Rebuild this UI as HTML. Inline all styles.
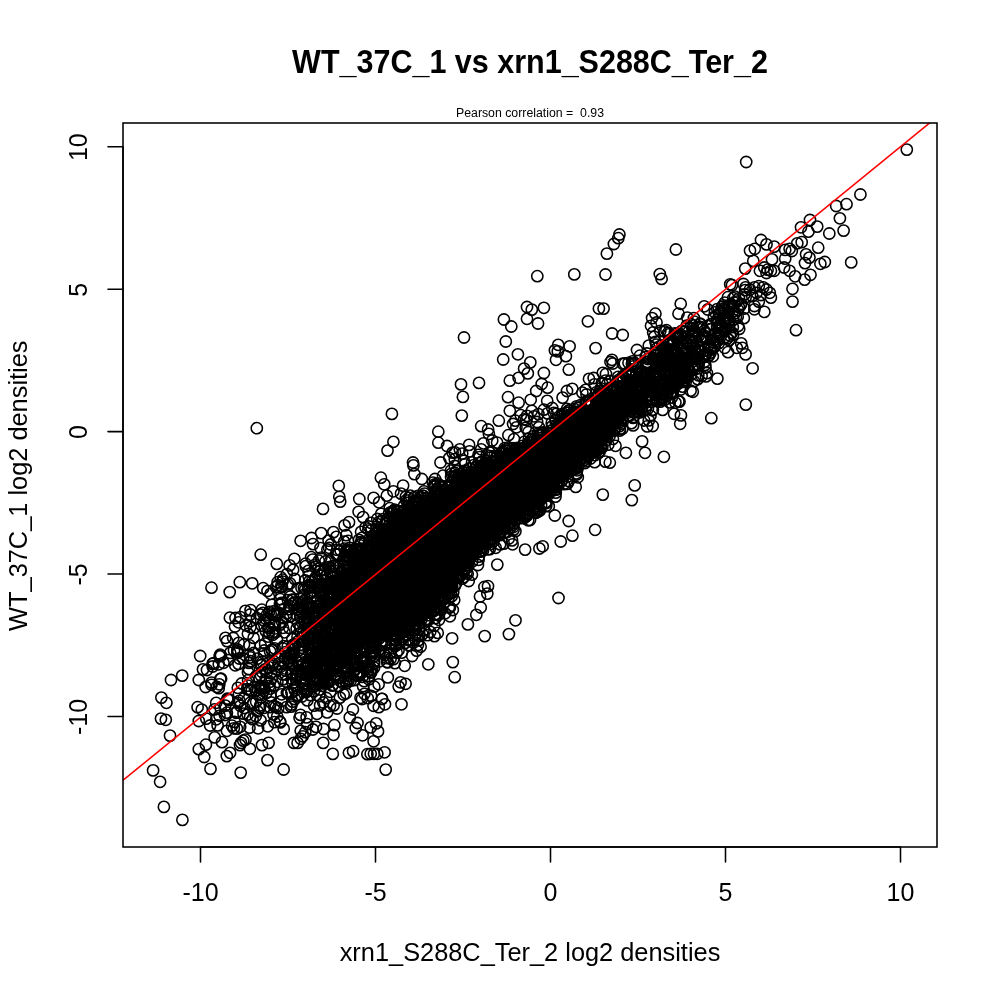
<!DOCTYPE html><html><head><meta charset="utf-8"><title>WT_37C_1 vs xrn1_S288C_Ter_2</title>
<style>html,body{margin:0;padding:0;background:#fff}svg{display:block}text{font-family:"Liberation Sans",Arial,Helvetica,sans-serif;fill:#000}</style></head><body>
<svg width="1000" height="1000" viewBox="0 0 1000 1000">
<rect width="1000" height="1000" fill="#fff"/>
<defs><clipPath id="c"><rect x="123" y="123" width="814" height="724"/></clipPath></defs>
<defs><marker id="m" markerUnits="userSpaceOnUse" markerWidth="16" markerHeight="16" refX="8" refY="8" viewBox="0 0 16 16" overflow="visible"><circle cx="8" cy="8" r="5.62" fill="none" stroke="#000" stroke-width="1.56"/></marker></defs>
<polygon fill="#000" points="334,581 356,561 378,539 400,518 418,505 437,494 475,472 500,458 537,438 550,430 578,411 600,398 612,391 634,375 634,409 612,432 600,444 578,466 550,491 537,504 500,532 475,552 437,604 418,622 400,631 378,641 356,651 334,667"/>
<g clip-path="url(#c)">
<polyline fill="none" stroke="none" marker-start="url(#m)" marker-mid="url(#m)" marker-end="url(#m)" points="205.6,687 205.9,744.7 206.3,718.7 210.1,725.5 211.5,682.7 211.5,684.8 212.5,663.9 212.7,666.5 213.5,663.1 214.5,709.4 216.9,686.9 216.2,702.8 216.3,719.3 217.6,725.4 218.8,664.3 218.7,688.2 219.7,656.3 219.3,684.3 219.5,715.8 220.1,654.7 221,655.6 220.3,679 220.6,708 221.1,678.7 223.5,662.8 224.9,715 225.4,637.8 225.3,705.6 227,641.1 226.9,712.7 226.9,730.8 227.9,660.1 227.3,698.7 228.4,699.1 229.9,617.7 229.1,700 230.2,652.9 232,725.7 233.2,638 234,650.4 233.8,728.3 235,626.5 234.7,721.9 235.5,618 235.2,665.3 236.4,712 236.1,712.8 236.9,728.6 237.4,649.5 237.3,651.2 237.4,652.6 238,652.7 237.8,687.8 237.9,702.9 238.6,622.3 238.7,642.9 238.5,663.9 238.9,693.8 239.3,658.5 239.4,700.9 240.4,617.2 240.3,705.8 240.2,726.8 241.7,683.5 244,644.5 243.1,658.4 243.8,698.5 243.5,713.6 244.3,708 245.4,610.8 246.2,625.5 247.9,633.8 247.7,685.7 247.3,689.1 247.6,714.6 248.9,662.9 248.9,669.2 248,672.3 248.1,680.2 249.5,645.4 249.4,655 249.8,690.1 249.5,727.7 250.6,610.1 250.3,614.5 250.2,621.2 250.4,627.1 250.3,657.4 250.3,661.2 250.4,702.7 250.1,717.3 251.6,690.9 252.8,703.8 252.6,719.2 253.8,628.2 253.6,637.9 253.7,653 254.5,687.1 255.8,690.4 255.8,716 257,618.1 256.1,676.4 256.2,701.9 257.4,658.7 257.6,711.3 258.1,728.3 259.6,678.4 259.4,694.1 259.8,707.9 260.2,614.5 260.7,645.7 260.8,665.4 261,675.7 260.2,685.7 260.7,687.7 260.3,705.4 260.5,720.4 261.8,609.7 261.8,625.6 261.9,664.9 261.2,687.9 261.7,689.5 261.9,694.8 262.9,612.9 262.6,662 262.1,672 262.4,686.5 263.2,588.2 263.9,653.4 263.7,690.9 264.1,620.6 264.2,650.5 264.5,687.7 264.2,707.8 265.9,619 265.9,631.2 265.1,643.6 265.1,669.4 265.7,679.4 267,614.7 266.8,672.6 266.3,693 267.5,591 267.7,726.3 268.8,619 268.2,627.8 269,632.2 268.3,636.6 268.8,667.1 269.2,611.8 269.4,628 270,681.8 269.2,686 269.8,707.1 270.6,593.8 270.7,613.7 270.1,651.4 270.7,673 270,688.6 270.2,695.6 271.8,604.9 271.7,649.7 271.6,678.5 271.1,702.5 272.6,632.4 272.8,634.8 272.2,650.4 272.1,663.5 272.5,665.6 273.2,611.5 273.7,624.8 273.9,685.4 274,706 273.5,714.5 274.4,614.5 274.6,648.4 274.5,661.8 274.4,722.1 275.9,615.9 275.1,624 275.5,632.4 275.8,706.8 276.1,587.2 276.9,615.9 276.9,639.4 276.4,669.3 277.6,582.2 277.8,585.2 277.5,657.7 277.4,681.9 277.2,716.5 278.1,612.5 278.7,663.6 278.2,708.2 279.4,593.7 279.9,604.2 280,624.7 279.9,721.5 280.7,577.2 280.3,599.1 281,604.7 280.1,667 280.3,722.4 281.2,585.9 282,586.9 281.4,602.9 281.6,694.3 281.3,701.1 282.7,579.7 282.5,581.7 282.2,622 282.8,648.4 282.3,674.3 282.9,679.4 283.6,609.1 283.1,618 283,627.8 283.6,646.2 283.2,661.9 283.7,728.9 284.5,632.3 285.6,652.2 285.2,658.1 285.3,670.5 285.6,674.5 286.9,574.1 286.8,613.3 286.1,616.5 286.1,681.6 286.9,693 286.5,707.1 287.8,584.3 287.9,600.1 287.7,646.6 288,658.3 287.8,692.9 288.7,661.5 288.4,692.7 289.6,565.4 289.9,583.4 289.4,605.8 289.2,609.1 289.3,627.9 289.3,654.7 289.5,658.4 289.4,660.7 290.4,596.5 290.4,616.2 291.9,599.7 291.4,653 291.3,656.6 291.1,663 291,664.6 291.3,674 291.4,692.6 291.4,704.6 291,706.6 292.4,639 292.3,645.9 292,673.8 292.1,679.2 292.5,683.1 292.6,701.7 293.1,569.9 293.1,600 293.5,603 293.7,652.8 293.6,654.7 293.9,742.9 294.7,578.9 294.1,644.1 294.1,648.8 294.1,688 294.9,690.4 294.8,699.1 295.3,602.4 295.4,644.8 295.9,676 296,679.4 296.9,615.1 296.7,628.5 297,674.1 297,686.2 296.5,695.6 297.4,588.5 297.2,609.6 297.9,623.3 297.5,636.8 297.1,642 297.3,662.5 297.5,675.5 298.1,609.2 298.4,650.6 298.4,671.6 298.3,695.5 299.6,718.1 300.3,598.6 300.1,606.9 300.2,616.2 300.4,627.2 300.8,632.7 300.1,645 300.5,656 300.6,659 300.2,665.4 300.3,674.3 300.5,714.9 300.7,730.8 300.7,738.8 301.5,587.9 301.6,603.5 301.8,608.3 302,622.2 301.5,647.9 301.5,651.6 301.5,672.2 301.7,678.6 301.9,696.5 302.1,602.4 302.2,612.5 302,612.2 302.9,633.5 302.8,641.5 302.4,641.1 302.5,665 302.9,688.3 303.9,588.1 303.8,600.8 303.5,608.5 303.4,664.1 303.8,672.5 303.3,684 304,594.8 304.6,620.2 304.4,622.5 304.7,635.1 304.7,668.1 305,679.8 304.4,689.5 305.6,563.7 305.8,566.2 305.2,580.3 305.3,589.3 305.4,625.7 305.4,683.1 305.2,684.5 305.9,692.1 305.3,732.2 306.6,617.3 306.5,664.7 307,666.5 306.2,674.4 306.3,675.5 306.6,690.2 306.6,717.4 307.2,602.7 307.2,606.3 307.3,610.1 307.3,612.3 307.5,621.5 307.9,624 307.4,644.6 307.9,661.9 307.2,668.3 307.4,671.4 307.4,691.3 307.3,700.4 307.2,724.2 308.4,570.9 308.6,576.2 308.2,586.3 308.1,588 308.1,603.4 308.2,607.8 308.8,617.4 308.3,623.9 308.3,623.9 308.4,635.8 308.3,638.5 308.8,640.8 308.1,664.4 309.2,581.6 309.5,585.1 309.8,593.7 309.1,627.5 309,638.7 309.1,643.9 309.8,648.5 309.7,672.3 309.4,672.7 310.5,592 310.5,597.6 310.2,608.8 310.7,629.1 311,649.9 310.7,655.5 310.2,670.5 310.5,695.1 311.5,538 311.2,557.1"/>
<polyline fill="none" stroke="none" marker-start="url(#m)" marker-mid="url(#m)" marker-end="url(#m)" points="311.9,581.7 311,609.3 311.3,614.1 311.1,626.8 311.4,627.6 311.6,643 311.5,655.5 311.4,672.7 313,544.1 312.7,559.6 312.2,606.5 312.1,643 313,651.2 312.7,658.6 312.9,663.6 312.4,670.5 312.6,679.4 312.8,681.6 312.8,686.9 312.8,729.5 313.2,590.8 313.3,596.5 313.2,607.7 313.5,612.2 313.7,613 313,625.2 313.7,635.9 313.1,645.1 313.7,645.3 313.3,653 313.9,666 313.4,666.4 313.8,669.6 313.3,671.9 314.6,587.2 314.5,622.9 314.5,638.3 314,656.2 314.4,658.1 314.3,663.7 314.6,670.9 314.5,675.8 314.1,679.4 314,691.1 314.1,705.7 315.3,564.6 315.2,567.1 315.5,577.6 315,580.2 315.2,622 315.6,626.8 315.1,629.8 315.4,645.2 315.6,654.9 315.6,656.6 315.9,656.3 315.6,658.2 315,664.4 315.6,684.2 316,726.9 316.7,585.3 316.1,606.8 316.5,621.4 316.7,641.9 316.7,652 316,652.3 316.4,665.1 316.2,671.4 316.9,677.8 316.4,678.2 316.7,678.7 317,713.8 317.6,593 317.2,600.8 317.4,613.4 317.4,629.7 318,632.9 317.5,653 317.4,654.5 317.2,657 317.5,668.8 318.7,560.7 318.3,568.9 318.2,587.9 318.7,608.8 318.3,608.8 318,623.8 318.2,638.3 318,652.4 319,655 318.1,684.1 319.7,570.9 319.7,605.8 319.9,609.3 319.2,612.2 319.3,621.6 319.1,644.3 319.2,645.8 319.6,652.2 319.3,652.2 319.6,666.4 319.3,696.2 320.5,548.1 321,570.3 320.5,575.9 320.4,590.1 320.8,593 320.6,624.4 321,634.9 320.3,640.2 320.1,652.5 320.2,659.9 320.4,680.5 320.3,689.5 320.1,705.4 321.3,557.7 322,574.6 321.7,584 321.6,584.2 321.4,590.7 321.1,626.6 321,626.1 321.8,650.3 321.6,667.7 321.8,685.8 322.7,594.4 322.2,596.6 322.4,612.1 322.9,614 322.5,614.4 322.3,641 323.2,587.3 324,593.8 323.1,608.2 323.5,620.2 323.8,623.1 323.2,638.7 323.2,659.7 323.2,665.1 323.9,675.8 323.3,676.6 323.9,679.9 323.7,680.8 323,682.6 323.3,702.5 323.5,729 324.5,570 324.3,590.4 324.7,632.4 324.8,654.2 324.8,669 324.9,676.6 324.5,683.6 325.4,561.5 325.3,583.9 325.7,599.8 325.7,643.3 325.7,652.9 325.2,655.1 325.7,661 325.3,664.4 326.4,594.3 326.6,602.2 326.2,609.5 326.4,618.7 326.1,636.1 326.7,636.9 326.3,644.5 326.9,648.7 327,667.8 326.1,674.7 326.3,698 327.4,549.5 327.2,574.2 327.6,584.3 327.6,588.9 327.9,598 327.2,609.6 327.4,619 327.6,621.7 327.2,631.7 327.9,659.4 327.8,669.1 327.5,673.5 327.7,678.5 327.8,680.4 327.3,683 327.1,712.4 328.6,540.6 328.4,567.2 328.8,585.8 328.7,585 328.2,604.6 328.3,605.1 328.1,610.6 328.2,629.7 328.8,634.2 328.1,638.5 328.8,638.3 328.6,681 328.9,682.3 329.1,547.8 329.9,567.5 329.5,583.5 329.8,591.7 329.8,595.1 329,604.2 329.5,612.6 329.1,613.1 329.4,616.8 329.7,617.3 329.4,618.6 329.9,637.6 330,641.1 329.1,643 329.7,646.4 329.9,650.6 329.6,653.7 329.1,658.3 329.7,662.7 329.9,672.3 330.7,544.5 330.1,561.4 331,574.1 330.6,583.4 330.6,584.1 330.3,584.5 330.8,597.6 330.4,599.2 330.3,599.4 330.4,605.8 330.3,617.1 330.4,636 330.6,643.6 330.5,644.1 330.3,648.4 330.1,654.2 330.1,666 330.2,691.8 330,706 331.6,576.8 331.3,593.5 331.7,606.4 331.2,639.4 331.9,643.4 331.5,644.1 331.5,650.5 331.2,653.4 331.7,653.8 331.3,658.6 332.9,565.8 332.3,572.2 332,581.6 332.8,581.5 332.1,582.4 332.5,583.8 332.9,588.5 332.8,594.2 332.3,604.2 332.6,611.9 332,613.2 332.7,614.7 333,618.9 332.3,620.7 332.6,631.4 332.6,653.2 332.9,667.9 332.8,668.5 332.6,669.6 332.8,684.9 332.2,685.7 333.4,532.1 333.6,566.7 334,570.5 333.6,577.6 333.2,581 333.4,586.5 333.7,598.4 333.2,614.2 333.2,616.3 333.2,618.9 334,623.7 333.2,645.4 333.7,653.7 333.6,659 333.3,659 333.6,705.4 334.1,604.7 334.7,620 334.5,628.1 335,631.4 334.7,643.3 334.7,658.1 335,665.5 334.9,666.7 335.9,554.2 335.1,584.4 335.6,600.3 335.1,616.3 335.1,654.3 335.6,669.1 335.2,676.7 336.4,536.8 336.4,567 336.9,581.8 336.5,583.2 336.2,584.8 336.9,591.3 336.5,610.8 337,636.8 336.1,644.4 336.2,658.8 336.8,663 336.9,667.5 336,674.3 337,708.5 337,549.8 337.2,554.6 337.6,587.3 337.5,599 337.8,602 337.4,665.7 337.3,671 338.3,554.5 338.6,589.1 338,596.9 338.5,602.2 338.8,612.7 338.3,625.1 338.6,636.4 338.6,642.7 338.9,645.4 338.9,647.1 338.5,656 338.2,658.7 338.7,660 339,664.8 338.8,678.1 338.9,686 339.4,567 339,582.9 339.1,584.7 339.5,588.5 339.8,589.6 339.5,597.7 339.9,598.3 339.6,601.2 339.4,602.7 339.8,606.4 339.5,612.9 339.6,633.3 339.9,636.6 339.7,637.4 339.6,654.9 339.9,697.6 340.6,550.4 340.3,572.7 340.2,586.5 340.9,587.2 340.9,600 340.3,603.3 340.4,628.3 340.2,634.5 340.8,645.8 340.2,645.5 340.3,649.5 340.2,655.3 340.9,658.4 340.9,677.6 340.2,680.9 341.7,573.1 341,580.3 341.3,591.1 342,601.4 342,607.2 341.7,618.1 341.1,622.4 341.8,623.5 341.6,647.8 342,657.8 341.5,663.3 342.5,561 342.5,583.4 342.6,588.8 342.9,591.1 342.6,597.5 342.7,605.5 342.2,613.6 342.7,623.3 342.5,642.3 342,650.3 342.4,682.6 343.2,569.9 343.9,575.5 343.2,585 343.9,599.6 343.3,620.9 343.2,621.6 344,622.1 343.1,633.9"/>
<polyline fill="none" stroke="none" marker-start="url(#m)" marker-mid="url(#m)" marker-end="url(#m)" points="343.9,647.3 343.5,659.7 343.2,659.4 343.7,694.5 344.2,541.6 344.4,548.6 344.3,556.2 344.3,559.4 344.8,564.3 344.1,578.7 344.5,579.8 344.5,603.4 344.5,610.9 344.9,614.1 345,617.7 344.7,621 344.1,621.5 344.6,638.7 344.1,638.3 344.9,644.5 344.4,647.5 345,576.9 345.4,580.4 345.3,581.1 345.9,610.2 345.8,629.3 345.6,634.9 345.2,639.5 345.7,650.4 345.1,658.5 345.6,669.9 345.5,672.6 345.8,681.4 346.2,535.2 346.7,550.1 346.6,576.2 346.3,582.6 346.3,593.2 346.3,598.3 346.1,601.4 346,604 346.6,603.2 346.3,609 346.3,627 347,633.9 347,638.3 346.9,645.6 346.7,649.3 346.8,654.6 346.4,659.2 346.7,660.3 346.7,666.1 346.5,666.9 346.3,683.4 346,693.3 348,540.9 347.4,556.7 347.5,556.5 347.9,563 347.6,569.2 347.3,574.9 347.1,574.7 347.6,576.5 348,602.7 347.5,610.5 347.4,616.7 347.9,631.4 347.8,645.1 347.5,663.8 347.2,668 349,522.2 348.5,551.3 348,555.3 348.4,572.3 348.6,581.8 348,601.7 348.1,610.4 348.2,617.4 348.1,634.1 348.3,640.9 348.7,675.6 348.3,678.8 348.4,680.9 349.8,547.8 349.5,550.5 349,552.3 349.7,558.1 349.1,565.6 349.6,582.9 349.5,583.8 349.1,597.9 349.5,599.5 349.6,610.1 349.8,617.9 349.1,630.5 349.6,632.5 349.2,635.3 349.5,638.1 349.1,663 349.8,717.4 351,549.9 350.6,584.3 350.4,615.6 350.3,620.3 350.7,626.7 350.3,633.2 350.3,646 350.8,649.9 350.5,652.4 350.7,680.7 351.2,585.5 351.9,586.8 351.4,594.3 351.8,607.2 351.3,617.1 351.5,644.4 351.3,649.4 351.9,660.2 352.9,552.3 352.9,574.6 352.3,574.5 352.8,585.9 352.8,591.1 352.6,623.2 352.2,632.2 352.3,636.2 352.4,638.8 352.2,647 352.6,648.2 352.9,709.5 353.6,561.3 353,561.3 353.5,562.1 353.3,564.8 353.7,565.7 353.8,573.7 353,573.1 353.6,579.1 353.5,587.8 353.1,591.8 353.6,591.8 353.3,593.3 353.5,603 353.9,613.3 353.5,619.9 353.8,623.1 353.4,644 353.2,647.9 354,652.7 353.4,665.1 354.8,567.2 354.2,600.7 354.9,614.8 354.4,648.8 354.8,661.4 354.7,670.1 354.5,670 354.2,680.1 355.3,550.4 355.7,560.7 355.4,562.9 355.8,568.7 355,569.3 355.4,570.3 355.5,570.2 355.6,576.2 355.6,593.1 355.6,599.1 356,602 355.8,612.6 355.2,614 355.3,623.5 355.1,626.8 355.3,627.3 355.7,639.5 355.4,663.5 355.7,728 356,571.2 357,573.3 356.1,577.1 356.6,592.6 356.1,594.5 356.9,607 356.3,610.4 356.6,615.6 356.3,623.6 356.4,624.8 356.5,638.9 356.5,645 356.2,650.3 356.3,663.9 356.4,675.5 357.2,549.5 357.4,560.7 357.3,561.4 357.4,563.1 357.2,576.8 357.6,587.7 357.7,589 357.8,590.4 357.1,593 357.5,598.5 357.9,606 357,605.8 358,608.8 357,619.6 357.7,624.2 357.7,645 357.3,646.5 357.5,646.9 357.3,662.5 357.8,665.8 357.3,675 359,539.8 358.8,565.5 358.8,566.8 358,576.6 358.9,588.5 358.7,590.3 358.8,607.9 358.6,608.4 358.9,621.8 358.8,627.5 358.1,641.3 358.7,642.1 358.8,672.4 358.1,675.6 359.9,545.3 359.4,558 359.4,562.2 359.3,575.5 359.2,576.7 359.3,601.7 359.9,609.2 359.4,620.2 359.6,623.5 359.1,632 359.6,635.4 359.7,643.5 359.5,674.3 360.4,548.6 360.5,555.3 360.7,581 360.3,614.6 360.3,621.7 360,622.4 360.8,624 360.5,653 360.1,652.4 360.8,661.2 360.5,697.8 361.1,531.8 361.9,537.8 361.1,541.8 361.1,543.8 361.1,555.1 361.9,563.1 361.1,577.9 361.7,592.6 361.5,592.6 361.6,599 361.4,626 361,630.9 361.2,636.6 361.4,672.9 362,699 362.1,551 362.9,557.9 362.6,559.9 362.8,582.3 362.8,597.3 362.2,597.3 362.6,615.3 363,618.7 362,623.1 363,637.6 362.8,642.9 362.3,661.5 362.1,666.3 362.4,676.9 363.1,517.1 363.4,557.1 363.5,564.8 363,578.5 363,579.9 363.6,584.3 363.8,593.1 363.5,602.3 363.2,613.5 363.6,619.5 363.9,620.8 363.9,622.3 363.9,635.1 363.6,657.2 363.3,658.2 364,660 363.8,662.4 363.1,686.2 364.8,542.8 364.5,562 364.3,572.2 365,573.4 364.1,576.4 365,582.3 364.2,604.4 364.7,607 364.8,609.1 364.4,614.8 364.7,617.7 364.2,623.5 365,626.1 364.9,646.6 364.7,651.2 364.1,681.1 364.4,693.8 365.6,527.4 365.3,552.2 365.3,554.9 365.8,556.4 365.8,568.3 365,570.5 365.7,577.3 365.2,591.6 365.6,592.8 365,600.7 365.5,600.4 365,608.3 365.1,616.8 365.5,619.7 365.6,626.5 365.3,632.8 365.6,632.1 365.1,649.7 366.9,548.1 366.5,566.7 366.4,567.5 366.9,567.4 366.6,581 366.1,584.7 366.1,587.1 366.6,602.6 366.2,610.2 366.6,619.1 366.7,620.3 366.1,621.1 366.9,631.2 366.5,649.9 366.6,665.5 367.9,548.4 367.5,556.5 367.3,560.5 367.6,566.8 367.1,578 367,583.4 367.8,589.8 367.5,609.3 367.2,611.7 367.7,614.3 367.2,623.1 367.4,623.8 367.1,624.4 367.6,626.3 367.4,626.9 367.3,637.8 367.1,643.8 367.9,666.7 367.7,698.2 368.8,526.5 368.4,529.4 368.6,552.3 369,556.7 368.9,561.9 368.9,569.5 368.4,569.8 368.6,570.6 368.3,571.8 368.3,587.5 368.5,589.8 368.9,595.4 368.5,601.3 368.4,603.8 368.9,605.1 368.6,618.9 368.6,621 368.5,634.6 368.7,666.7 368.1,671 368.9,679.3 369.4,541.6 369.1,547.8 369.8,567.8 369.7,569.8 369.2,576 369.6,577.2 369.3,577.5 369.8,577.9 369.8,597.2 369.4,611.6 369.6,624.7 369.6,624.4"/>
<polyline fill="none" stroke="none" marker-start="url(#m)" marker-mid="url(#m)" marker-end="url(#m)" points="369.7,624.7 369.9,627.7 369.7,630.8 369.2,654.1 369,676 370.8,522.8 370.7,548 370.1,549.3 370.5,563.3 370.7,566.7 370.5,569.3 370.7,584.2 370.3,592.6 370,607.4 370.4,608.7 370.8,617 370.9,620.2 370.2,622 371,639.8 370,652.7 370,653.2 370.3,671.8 371.1,530.4 371.3,550.2 371.4,560.3 371.5,574.6 371.4,583.5 371.3,593.7 371.3,601.9 371.4,617.9 371.5,627 371.5,637.5 371.7,637.9 371.9,648 371.6,652.1 371.3,655.6 371.1,672.7 373,536.4 372.9,539.5 372.7,547 372.3,556.7 372.3,560.6 372.1,574.4 372.7,577.4 372.7,583 372.5,591 372.9,590.2 372.8,593.3 372.2,598 372.8,598.7 372.9,608.2 372.3,623.1 372.8,641.3 372.9,642 372.1,644.8 372,669.9 373.6,540.3 373.7,545 373.8,560.3 374,565.7 373.4,565 373.6,566.9 373.8,570.8 373.5,576.1 373.4,590.7 373.3,628.4 373.7,629.3 373.4,637.3 374,661.7 373.5,705.8 374.7,553.4 374.3,554.3 374.7,567.7 374.1,579.6 374.4,585.1 374.5,591.1 374.9,603.5 374.6,605.7 374.5,630 374.2,644.4 374.3,652.6 374.7,655.9 374,663.9 374.1,667.6 374.3,686.7 375.5,533.7 375.6,538.4 375.1,553.9 375.9,570.9 375.8,597.9 375.5,599.8 376,634.6 375.1,642.7 375.2,651.4 376.8,526.8 376.4,536.3 376.2,538 376.9,540.7 376.9,543.6 376.1,572.2 376.6,583.8 377,591.7 376.1,594.3 376.2,598.2 376.6,602.7 376.4,617.8 377,629.4 376.5,639 376.3,648.1 377.3,519 377,532.2 377.3,542.2 377.8,562.7 377.3,569.1 377.6,583.2 377.4,598 377.6,601.2 377.7,609.7 377,611.9 377.2,627.1 378.7,548.2 378.4,559.7 378.6,559.4 378.5,560.4 378.6,570.2 378.8,630.1 378.5,649.9 378.6,684.3 379,522.1 379.4,528.2 379.3,530.2 379.9,531.4 379.9,540.4 379.2,551.7 379.3,563.9 379.6,566.8 379.2,567.8 379.5,569.2 379.1,571.5 379.7,576.1 379.7,637.8 379.1,638.4 380,651.7 379.5,661.3 380.7,534.3 380.7,574.6 380.1,575.7 380.5,577.2 380.6,582.6 380.9,584.3 381,597.4 380.5,603.5 380.2,619.8 380.2,619.7 380.7,635.1 381.2,513.8 381.5,535.3 381.9,539.2 381,539.9 381.2,548.3 381.1,570.6 381.8,571.8 381.6,580.9 381.6,584.9 381.2,586.6 381.5,593.1 381.3,598.4 381.3,598.5 381.4,611.9 381.3,613.2 381.9,633.8 381.4,641.2 381.1,643.8 381.5,644.3 381.8,698.9 382.8,519.2 382,521.1 382.9,538.1 382.3,543.5 382.3,546.7 382.4,573.3 382.8,593.3 382.4,599.6 382.1,601.5 382.2,601.4 382.3,618.9 382.5,625.5 382.7,641.5 383.1,537.4 383.8,560.9 383.1,571.1 383.6,577.4 383.6,579.5 383.3,580.5 383.6,589.4 383.7,590.1 383.6,597.5 383.8,602.3 383.8,611.5 384,616.6 383.5,620.9 383,624.3 383.6,628 383.2,628 383.6,653 384.3,532 384.5,535.7 384.8,536.7 384.4,539.9 384.9,570 384.4,573.5 385,574.8 384.6,580.7 384.8,580.2 385,585 384.1,593.4 384.9,598 384,598.1 384.9,622.3 384.6,624.3 384.6,634.3 384.7,645.4 384.8,655 385.5,523.3 385.7,530.4 385,540.4 385.9,543 385.8,549.7 385.1,554.4 385.4,564.6 385.4,573.2 385.9,576.8 385.9,585.6 385.3,599 385.4,605.9 385.1,626.8 386,630.9 385.8,631.3 386.7,520.1 387,534.2 386.3,545.6 386.9,547.8 386.1,561.4 386.3,563.8 386.9,581.7 386.2,585.7 387,601.1 386.4,608.7 386.8,608.5 386.6,613.3 386.9,626.8 386.5,627.8 386.8,658.1 387.7,531.6 387.3,532.8 388,538.1 387.9,557.7 387.8,557.8 387.3,562.2 387.8,583.1 387.1,586.8 387.3,597.4 387.4,598.6 387.3,606.6 387.5,611.4 387.8,621.6 387.2,632.4 387.7,634.4 387,662 387.7,662.4 387.8,677.4 388.7,529.9 388,530.8 388.9,532.8 388,540.3 388.3,545.6 388.3,562.7 388.6,563.7 388.2,568.3 388.8,568.5 388.7,581.5 388,592.7 388.9,599.6 388.8,604.1 388.5,609.2 388.1,610.4 388.1,611.4 388.7,611.9 388.4,613.8 388.4,615 388.2,614.3 388.5,632.4 389.8,508.2 389,513.5 389.9,517.3 389.1,525.6 389.3,530.2 389.2,531.4 389.8,532.8 389.2,534.6 389.2,540 389.2,552.7 389.6,558 389.6,562.4 389.8,564.5 389.9,582.1 389.7,589.9 389.1,602.2 389.2,610.4 389.3,616.5 389,616.1 389.7,653.2 390.4,532.2 390.5,540.6 390.2,546.4 391,550.7 390.4,552.2 390.5,557.5 390.5,566.2 390.9,569.1 390.9,580.7 390.6,580.9 390.9,584.3 390.3,587.6 390.2,588.7 390.7,592.3 391,599.1 390.5,609.9 390.7,622.1 390.7,658.6 391,512.1 391.6,528.6 391.7,537.4 391.9,540.7 391.1,544.7 391.2,563.9 391.5,587.9 391.8,605.3 391.2,607.3 391.9,609.6 391.4,609.7 391.7,617.6 391.3,640.2 392.7,512.1 392,528.5 392.5,530.3 392.5,535.2 392.2,552 392.7,555.8 392.1,556.6 393,588.8 392.5,593.1 392.5,603.1 392.1,618.7 392.8,619.6 392,633.5 392,643.9 393,529.6 393.4,531.6 393.8,558.1 393.3,559.7 393.4,577.2 393.4,583.9 393.8,587 393.9,588 393.1,596.4 393.9,606.9 393.1,615 393.1,628.9 393.6,630.8 393.4,659.1 394.5,509.7 394.2,510.8 394.6,522.4 394.3,522.2 394.5,531.7 394,567.6 394.5,575.5 394.4,575 394.4,577.4 394.7,593 394.3,607.8 394.6,617.9 394.2,620.9 394.9,620.1 394.1,622.7 394.9,623.3 394.4,623.9 394.8,626.9 394.9,635.4 394.9,639.4 395,646.1 394.9,663.1 396,523.9 395.4,538.5 395.9,552.8 395.8,552.2 395.7,555.1 395.6,569.6 395.8,572"/>
<polyline fill="none" stroke="none" marker-start="url(#m)" marker-mid="url(#m)" marker-end="url(#m)" points="395.8,596 395.3,609.7 395.5,644 397,510.6 396.3,514.8 396.4,539.5 396.9,539.6 396.5,549.8 396.4,568.7 396.5,581.9 396.5,582.5 396.4,602.7 396.2,609.3 396.9,637.2 396,639.7 396.1,640.8 396.2,644.9 396.6,652.7 397.9,511.6 397.3,536.5 397.1,554.2 397,556 397.3,557.3 397.9,573.6 397.8,576.2 397.2,580.3 397.7,590.3 397.9,595.9 397.9,596.2 397.3,611.9 397.4,616.3 397.6,616.1 397.8,629.3 397.6,630.8 398.2,516.4 398,519.8 398.1,520.6 398.9,522.5 398.7,528 398.3,533.5 398.4,540.8 398.8,545.4 398.6,548 398.4,550.2 398.4,556.7 398.3,567.5 398,592.6 398.7,596.2 398.6,598.8 398.6,611.8 398.2,619.9 398.3,630.1 398.5,650.3 398.7,686.6 399.9,519.4 399.6,529 399.5,530 399.3,531.9 399.7,535.6 399.5,550.7 399.2,551.4 399.9,565.1 399,568.3 399.4,569.1 399.7,576.4 399.9,582.3 399.2,585 399.2,590.7 399.5,625.4 399.7,643.8 400.5,515.5 400.2,517.8 400.7,527.9 400.5,536.2 400.4,550.2 400.5,564.1 401,566 401,579.9 400.3,584.5 400.7,587.7 400.4,589 400,595.5 400.6,595.1 401,606.3 400,616.5 400.3,618.8 400.7,626.1 400.2,631.9 400.6,632.2 400.6,682.3 401,493.6 401.7,538 401.4,546 401.3,554.2 401.6,560.6 401.8,563.1 401,565.8 401.7,566.7 401.3,574.1 401.4,576 401.9,579.9 401.2,586.6 401.4,589.2 401.4,590.8 401.6,591.5 401.7,598.7 401.2,602.2 402,608.1 401.3,612.5 401.2,624.1 401.3,629.3 401.2,632.3 401.8,652.7 402.5,520 402.5,530.8 402.7,537.7 402.6,548.2 402.9,561.2 402.8,571.3 402.4,576.3 403,579.4 402.2,600.5 402.8,601.1 402.1,607.2 402.3,609 402,620.7 402.4,625.9 402.1,639.3 403.6,510.7 403.5,524.4 403.3,558.5 403.2,561.4 403.5,571.5 403.8,586.2 403.5,586.9 403.9,595 403.9,599.2 403.9,602.7 403.8,626.8 403.1,636.5 404,505.8 405,509.8 404.8,517.7 404.9,529.8 404.8,534.3 404.2,551.8 404.3,554 404.5,555.9 404.4,561.3 404.9,565.3 404.7,577.8 404.9,581.3 404.5,591 404.1,592.9 404.9,594.2 404.6,600.3 404.9,609.5 404.9,610.6 404.2,617.6 404.7,665.8 405.8,496.9 405.4,522.6 405.1,529 405.2,529.1 405.6,530.7 405.3,532.6 405.4,564.1 405.1,571.1 405.2,572.6 405.1,576.8 405.9,579.6 405.4,581.8 405.7,591.3 405.4,621.6 405.8,626.8 405.3,629.7 405.8,630.8 405.2,642.9 405.6,683.8 406.2,500.3 406.3,513.9 406.1,535.2 406.9,540.2 406.6,554.6 406.5,558.1 407,561.1 406.3,570.5 406.3,577.2 406.1,593 407,597.7 406.1,600.1 406.1,607.9 406.2,619.1 406.2,625.2 407.8,514.4 407.3,521.8 407.5,524.6 407.6,526 407.8,544 407.5,550.1 407.2,553.7 407.9,556.3 407.1,559.9 407.8,567 407.2,572.7 407.6,581.3 407.2,584.3 407.6,586.4 407,592.2 407.2,599.3 407.6,601.3 407.2,607.4 407.3,611 407.9,623 407.2,627.4 407.3,634.7 408.8,497.8 408.4,502.9 408,507.2 408.6,509.6 408.5,513 408.3,528.8 408.9,534.6 408.7,537.7 408.9,539.9 408.4,562.3 408.1,575 408.7,578.6 408.3,588.7 408.8,600.4 408.9,603.1 408.3,609.3 408.5,620.6 408.8,624.4 408.9,639.3 408.8,645.1 409.3,506.5 410,510 409.1,514.3 409.4,535.9 409.7,539.7 409,545.7 410,546.5 409.5,552.7 409.4,559.4 409.2,564.8 409.9,566.2 409.8,580.6 409.1,586.7 409.3,605.6 409,610.8 409.8,610.1 409.3,614.5 409.2,618.2 409.3,626.6 409.6,640.5 410.3,495.7 410.7,507.6 410.5,509.9 411,518.9 410.5,518.3 410.8,524.6 410.7,531 410.2,540.3 410.4,545.2 410.1,571.4 410.7,572.7 410.5,575.8 410.4,589.7 410.3,594.4 410.2,595.8 410.1,604.4 410.3,614.4 411.8,506.1 411.1,508.6 411.4,516.7 411.4,519.4 411.6,521.2 412,524.2 411.7,528.2 411.4,530.2 411.6,539.7 411.3,568.5 411.5,571.8 411.4,584.9 411.9,612.3 412.5,504.1 412.1,547.7 412.2,549.9 412.9,550.8 412.8,555.3 412.3,557.5 412.1,577.4 412.5,586.6 413,588.5 412.6,588.2 412.8,594.6 412.6,598 412.4,612.8 412.7,614.8 412.4,616.9 412.2,656 413,517.6 413.3,526.5 413.9,527.6 413.6,528.5 413.6,540.1 413.8,543.6 414,565.4 413.3,572.3 413.2,576.5 413,577.6 413.6,585.3 413.9,599.4 413.7,600.9 413.7,616.5 413.5,642.5 414.4,474.1 414,497.2 414.2,502.2 414.2,503.3 414.6,520 414.5,526.3 414.2,527.5 414.8,535.3 414.9,549.7 414.9,550.4 414.8,551.6 414.3,557.9 414,564.9 414.9,565.7 414.3,583 414.1,587.7 414.1,589.5 414.2,591.1 414.6,611.7 414.5,629.8 415.9,513.1 415.2,537.1 416,538.6 415.7,543.8 415.3,550.6 415.7,560 415.3,565.4 415,569.1 415.4,576.7 415.2,581 415.3,581.3 415.8,585 415.9,586.2 415.6,588 415.5,591.3 415.4,592.6 415.7,604.1 415,619.3 415.1,623.1 415.8,624.4 415.6,625.1 415.5,634 415.2,638.8 416,502 416.6,511.4 417,515.4 416.6,517 416.7,527.1 416.9,544.5 416.1,574.9 416.7,577.8 416.3,589.6 416.3,607.3 416.9,611.2 416.5,614.2 416.2,617.5 416,628.2 416.6,650.6 417.9,495.8 417.2,511.4 417.8,522.6 417.2,523.6 417,525.1 417.8,529.1 417.1,551.6 417.3,551.7 417.2,551.9 417.4,553.9 417.4,560.2 417.2,565.3 417.9,580.8 417.8,587.7 418,588.1 417.2,590.3 417.6,598.6 417.1,602.7 417.2,606 417.8,612.5 417.5,618.1 417.8,620.7 417.9,645 418,499.9 418.9,502.4"/>
<polyline fill="none" stroke="none" marker-start="url(#m)" marker-mid="url(#m)" marker-end="url(#m)" points="418.1,510 418.6,511.9 418.1,532.8 418.2,560.5 418.7,563.7 418.5,590.3 418.2,594.4 418.8,612.4 418.4,614.1 418.5,616.1 418.7,624 418.8,629.6 418.7,635.3 418.3,640.4 419.4,523.6 419.8,527.3 420,540.2 419.3,543 419.4,576.1 419.7,577.8 419.9,594.9 419.3,614.1 419.4,614.3 419.1,617 419.1,616.2 419.2,629.3 419,636.1 420.3,496.8 420.3,522.4 420.9,523.2 420.8,525.7 420.5,549.3 421,553.3 420.9,585.4 420.1,590.1 420.7,592.6 421,599.7 420.8,603 420.8,603.3 420.6,605.8 420.2,607.2 420.2,617.7 421.2,497.7 421.8,510.1 421,522.1 421,527.2 421.2,528.5 421,546 421.1,547.7 421.3,555.3 421.2,577.9 421.7,588.6 421,589.5 421.3,614.9 421.3,619.5 423,495.8 422.4,507.3 422.5,516.5 422.5,516.8 422.1,521.7 422.8,530.2 423,535.8 422.6,551.8 422.3,556.6 422.8,559.4 422.1,581.3 422.4,582.9 422.6,590.3 422.8,602.5 422.8,615.1 422.4,634.2 424,491.3 423.4,495.8 423.7,505.9 423.8,515.9 423.3,535.4 423.5,538 423.5,564.9 423.5,567.1 423.3,568.1 423.6,575.7 423.4,593.4 423.8,595.6 423.7,603.5 423.7,607.7 423.2,610.9 424,613.5 423.5,630.2 424.5,493.6 424.5,498.3 424.5,539.5 424.5,573.4 424.9,576 424.6,576.1 424.4,576.6 424.1,577.2 424.8,596.4 424.8,596.1 424.1,599.5 424.2,601.3 425,606.2 425.4,500.9 425.2,502.6 425.1,516.2 425.6,528.3 425.8,538.5 425.9,539.3 425,545.2 425.9,559.8 425.9,567.8 425.8,584.6 425.9,594.5 425.2,598.1 426.6,506.8 426.9,514.3 426.6,518.2 426.5,524.1 426.6,533.5 426.1,533.5 426.4,551.8 426.6,586.6 426.5,588.3 426.5,591 426.3,608.7 426,621 427.2,498 427,504.5 428,518.8 427.6,527.2 427.1,530.7 427.1,532.7 427.1,538.5 428,539.3 427.9,546.7 427.5,547.9 427.7,561.3 427.8,592.5 427.9,601.7 427.7,602.9 427.1,612.4 427.9,618.8 427.6,620.9 427.6,635.2 428.7,516.4 428.2,528.7 428.7,531.1 428.2,535.9 428.9,541.2 429,543.4 428.7,545.2 428.3,553.1 428,556.6 428.5,558.3 428.3,571.8 428.4,571.6 428.8,576.2 428.9,584 428.6,584.9 428.3,612.4 428.2,615.2 429,502 429.6,502.6 429.9,514.1 429.4,546.2 429.4,553.8 429.7,556.9 429.5,558.8 429,567.4 429.8,584.1 429.6,592.7 429.1,603.9 429.5,607.8 429.5,607.1 430.7,506 430.7,508.4 430.6,535.6 431,549 430,552.3 430.1,563.5 430.1,567.2 430.7,572.6 430.3,572.7 430,575 430.3,575.8 430.5,593.9 431,593.5 431,595.1 431,612.1 430,612.5 430.2,631.9 431.4,498.5 431.1,503.6 431.3,504.5 431.1,509.4 431.8,524.8 431.7,531.3 431.8,546.4 431.4,550 431.5,552.2 431.3,554.7 431.5,566.6 432,569.6 431,594.9 431.8,600.4 432.9,482.6 432.9,511 432.4,514.7 432.8,530.6 432.4,538.2 432.2,543.6 432.9,552.7 433,554.2 432.1,556.1 432.2,560.1 432.6,567.2 432.6,577.9 432,604 433.3,497.7 433.3,513.7 433.9,517.9 433.6,526.1 433.6,530.3 433.9,540.9 433.8,559.8 433.7,560.8 433.7,560.1 433.8,578 433.2,584.3 433.9,593 433.1,595.8 433.6,597.7 433.8,599.5 433.5,611.1 434.2,484.7 434.9,486.6 434.3,486.3 434.9,506.2 434.7,511.7 434.5,533.1 435,555.4 434.6,565.3 434.6,585.7 434.6,609.8 434.9,614.6 434.4,625.6 435.4,485.7 436,490.1 435.7,492.3 435.9,509.4 435.1,520.4 435.3,521.6 435,525.8 435.3,533.3 436,538.3 435.7,542.3 435.2,569 435.6,571.8 435.3,577 435.1,600.4 435.3,618.2 436.5,492.2 436.3,496.8 436.4,502.5 436.2,510.6 436.2,513.4 436.5,527.8 436.6,558.6 436.1,570.7 436.3,570.6 436.5,575.7 436.8,599 436.1,602.8 436.8,613.8 437.6,483.3 437.6,488.6 437.1,503.4 437.8,504.5 437.6,521.1 437.5,533.5 437.7,546.4 437.2,553.8 437.2,560.7 437.7,561.7 437.7,566.1 437.4,571 437.3,582.2 437.9,582.4 437.5,586 437.9,591.8 437.5,606.2 437.7,632.9 438.4,492.3 438.2,502.6 438.6,507.2 438.2,513.2 438.9,517.1 438.4,518.2 438.7,525.7 438.8,525.7 438.4,526.4 439,535.2 438.8,540.2 438.7,547.2 439,550.8 438.2,586.7 438.4,597 438.7,599.6 438.5,608 438.2,614.9 439,619.8 439.6,486 439.5,495.4 439.7,495 439.2,511.4 439,512.2 439.4,515.8 440,517.3 440,518.5 439.6,528.6 439.8,535.6 439.6,536.2 439.4,539.6 439.8,541.4 440,556.4 439.8,564.6 439.6,576 439.3,584.6 439.9,585.4 439.3,586.2 439.8,603.4 441,494.3 440.1,502.5 440.7,504.9 440.6,504.8 440.7,512 440.3,528.3 440.1,533.2 440.5,538.6 440.2,553.4 440,561 440.1,568.4 440.1,580.3 440,589.4 440.3,590.8 440.2,595.3 440.3,596.6 440,597.7 440.1,608.9 441.5,486 441.5,498.3 441.2,500.4 441.4,507.6 441.6,515.4 441.6,524.3 441.2,539.8 441.9,540.1 441.9,563.6 441.4,576 441.7,578.3 441.2,582.1 441.3,584.4 441.3,589.8 441.4,599.7 441.4,601.5 441.1,609.8 442.3,487.7 442.8,509.8 442.7,515.2 442.4,515.7 442.2,519.2 442.7,528.8 442.7,534.3 442.6,535.7 442.5,548.4 442.5,555.5 442.7,564 442.9,566 443,566 442.4,583.7 443,475.7 443.2,494.9 443.4,499.4 443.3,501.4 444,503.4 443.3,514 443.5,515.4 443.9,515.6 443.1,521.6 443.7,533.5 443.1,537.1 443.7,539.3 444,544.9 443.1,547.3 443.7,547.9 443.8,557.9 443.9,560 443.1,560.2 443,573.6 443.2,576 443.4,581.8"/>
<polyline fill="none" stroke="none" marker-start="url(#m)" marker-mid="url(#m)" marker-end="url(#m)" points="443.6,596.3 444.9,496.1 444.8,505.9 444.5,531.3 444.7,533.1 444.6,538.9 444.4,539.7 444.2,543.5 444.9,547.5 444.2,549.5 444.3,566.6 444.9,570 444.2,569.5 444.2,584.4 444.1,589.1 444.9,591.2 444.4,602.1 445.2,490.2 445.7,497.2 445.6,517.2 445.6,525.9 445.2,526.7 445.8,538.8 445.8,540.3 445.2,545 445.7,549.2 445.3,550.2 445.4,563.4 445.1,564.6 445.1,570.4 445.6,585.4 445.3,590.4 445.4,598.1 445.1,613.3 446.5,506 446.2,510.3 446.5,522.4 446.5,524.1 446.2,524 446.1,528.2 446.1,531.5 446.4,532.1 446.4,539.8 446.2,546.4 446.6,547.1 446.6,551.6 446.8,558.3 446.7,560.5 446.6,562.4 446.3,564.2 446.5,584 446.9,583.5 447.2,511.8 447.2,516.2 447,536.8 447.5,539.3 447.8,562.1 447.6,585 447.4,594.5 448.2,493.8 448.1,499.4 448.5,500.2 448.3,505.3 448.5,512 448.5,513.2 448.2,523 448.3,526.1 448.6,535.9 448.6,542.4 448.7,547.8 448.6,550.9 448.6,551.8 448.7,558.3 448.1,560 448.8,562.3 448.7,564.3 448.7,573 448.5,575.8 448.3,576.9 448.5,578.6 448,584.1 448.6,588.6 448.9,594.2 448.5,598 448.9,607.4 449.3,485.8 449.1,491.6 449.5,494.9 449.3,504.7 449.2,508.2 449.5,510.7 449.5,511.8 449.8,523.4 449.9,532.2 449.3,539 449.4,547.5 449.2,549.4 449.9,567.9 449.6,572.1 449.6,577.2 450,583.7 449.5,584.8 449.9,607.4 450.9,470.7 450.9,486.6 450.3,502.3 451,508.6 450.8,532.5 450.5,533.1 450.8,540.5 450.5,543.1 450.5,544.9 450.5,550.2 450.8,552 450.4,552.7 450.5,560.6 450.6,567.6 450.9,569.8 450.6,570.1 450.9,570.2 450.7,571.1 450.5,582.4 450.2,583.3 450.3,586.5 450.8,586.9 450.9,593 451.4,473.8 451,476.9 451.2,493.1 451.7,494.6 451.5,495.1 451.1,504 451.8,509.2 451.8,509.7 452,523.8 451.7,544.8 451.1,552.7 451.4,560.2 451.6,566.1 451.3,570.8 451,572.2 451.9,575.2 451.6,578.4 451.9,587.4 451.7,596.2 452.2,482.2 452.8,494.6 452.3,509.7 452.9,534.2 452.4,535.4 452.8,545.8 452.1,572.3 452.9,572.2 452.7,578.4 452.7,580.5 452.1,585.7 452.8,610 453.6,487.9 454,491.3 453.1,493.1 453.6,505.8 453.4,514.3 453.3,520.6 453.7,528.2 453.8,538.1 453,539.2 453.9,541.7 453.6,551.5 453.6,558.8 454,570 453.2,572.3 453.6,575.3 453.2,592.2 455,452.4 454.8,466 454.4,477.4 455,489.1 454.2,491.1 454.2,504.4 454.4,513 454.2,514.7 455,538.7 454.2,553.1 454.9,558.3 454.6,586.2 454.2,599.9 455,473 456,488.5 455.4,488.2 455.8,490.9 455.8,503.2 455.4,507.2 455.8,508.3 455.3,511.1 455.5,513.2 455.5,531.3 455.8,533.7 456,539.1 455.9,549.1 455.6,553.7 455.8,570.1 455.2,575.4 456,583.7 456.5,471.1 456.2,475.7 456.1,484.9 456.6,503.5 456.6,520.6 456.5,521 456.8,522.7 456.6,538.8 456.9,548.3 456.9,552.3 456.4,554.2 456.1,577.3 457.8,477 457,482 457.8,485.1 457.3,489.1 457.6,496.8 457.7,497.1 458,518.3 457.2,522.8 457.9,527.4 457.3,529.2 457.2,530.7 457.5,530.7 457.4,533.2 457.8,538.6 457.4,544.2 458,545.2 457.3,546.4 457.3,549.6 457.9,550.6 457.5,565.1 457.7,567.3 457.6,578 458.8,475.8 459,490.9 458,491.9 458.2,495.1 458.3,510.1 458.1,510.1 458.6,516.7 458.2,518.5 458.5,520.6 458.2,525.5 459,533.7 458,545.1 458.2,548.1 458.2,551 458.6,560.9 458.6,567.1 458,575.3 459,577.4 459.8,449.3 459.6,480.8 459.1,482 459.3,482.4 459.7,501.5 459.3,505.9 459.7,529.9 459.5,530.5 459.7,537.1 459.9,541 459.7,545.8 459.3,554.5 459.5,560.1 459.1,568.7 459.5,576.3 460.6,482.2 460.9,503.6 460.9,530.2 461,548.6 460.4,549.9 460.3,558.3 461.7,473.8 461.4,476.5 461.9,477.7 461.6,483.8 461.9,493.7 461.9,493.5 461.4,497.6 461.3,503.4 461.4,510.7 461.9,515.5 461.2,525.7 461.3,529.8 461.3,529.9 462.2,453.6 462.2,475.9 462.2,537 462.1,537.6 462.7,547.9 462.9,553.6 462.3,554.2 462.4,564.4 462.3,578.6 463.8,460.8 463.7,472.6 463.9,479.6 463.9,487.9 463.8,490 463.4,490.3 463.7,496 463,513.4 463.5,515.6 463.6,517.3 463.6,520.7 463.1,526.6 463.1,527.8 463.3,530.2 463.5,533 463.6,541.5 463.9,542.2 463.9,543.9 464,544.4 463.7,554.5 463.7,560.6 463.2,561.1 463,562.9 463.8,577.1 464.9,464.4 464.9,470.7 464.3,477.4 464.3,481.9 464.7,493.4 464.1,498.5 464,498.2 464.1,506.3 464.5,506.7 464.5,515.3 464,527.8 464.5,530.2 464.4,537.4 464.7,541.1 464.4,544.1 464.2,546.2 465,560.8 464.3,560.6 464.4,563.3 464,570.2 465.8,478.4 466,483.8 465.9,490 465.4,530.8 465.1,532 465.5,533.9 465.7,538 465.5,540.2 465.3,552.4 465.2,555.1 466,557.6 466.2,473.2 466.1,483.6 466.7,490.9 466.2,494.2 466.9,503.6 466.1,506.8 467,512.7 466.9,512.6 466.5,518.4 466.8,526.8 466.4,552.9 466.2,562.3 466.8,565.4 466.5,568.3 466.5,572.4 467.7,475.5 467.4,476.2 467.1,498.9 467.5,503.1 467.1,504.1 467.7,510.9 467.4,520.2 467.3,522.2 468,540.9 467.9,558 467.6,563 467.7,573.7 468,475.6 468.3,475.3 468.1,479.2 468.2,481.9 468.7,493.8 468.1,495.7 468.7,498.8 468.4,501.7 468.3,510.8 468.2,518.6 468.7,521 468.4,533.5 468.3,534.9 468.3,546 468.3,549.2 468.5,552.8 469,560.7 468.5,564.9 468.7,581 469.5,451.3"/>
<polyline fill="none" stroke="none" marker-start="url(#m)" marker-mid="url(#m)" marker-end="url(#m)" points="469.3,468.3 469.5,476.4 469.1,485.4 469.6,486.4 469.6,486.1 469.5,490.7 469.6,498.2 469.7,520.7 470,521.4 469.9,521 469.5,530.1 469.8,543.4 469.5,545.8 469.7,555.1 469.7,556.6 470.7,472.3 470.9,482.9 470.9,488.5 470.6,499.5 471,504 470.2,510.7 470.8,511.7 470.9,511 470.4,517.7 470.5,518.6 470.7,522.1 470.9,524.2 470.2,531.7 470.6,539.8 470.2,549 471.4,477.2 471.4,494.4 471.4,501.1 471.8,512.3 471.5,513.7 471.4,524.2 471.9,527.3 471,537 471,540.5 471.5,546 472,547.7 471.9,574.7 472.1,462.3 472.7,475.4 472.5,483.1 472.7,486.4 472.4,491.1 472.2,499 473,507.9 472.9,514.4 472.6,514.6 472.7,533.8 472.1,535.1 472.7,536.8 472.6,554.7 472.2,561.5 473.8,465.1 473.4,478 473.3,478.4 473.5,478.5 473.3,499.6 473.3,511.5 473.2,513.5 473.9,525.2 473.8,527.2 473,540.3 473.5,543.3 474.7,478.1 474.1,490.8 474.5,501.9 474.1,515.1 474.2,521 474.7,529.1 474.6,534.1 474.8,536.2 475.9,480 475,480.6 475.8,481 475.2,483.1 475.5,485.6 475.6,504 475,506.4 475.2,521.2 475.8,530.1 475.5,534.2 475.3,547.8 476,547.4 475,550.2 475.4,553.6 476.8,466.1 476.1,467.6 476.7,472.5 476.3,484.7 476.7,484.6 476,493.1 476,495.7 476.2,500.1 476.1,508.5 476.8,509 476.4,519.2 477.8,468.8 477.8,484.9 477.7,491.5 477.9,502 477.2,522 477.7,525.1 477.9,545.2 477.9,565 478.5,454.9 479,463.1 479,479.9 478.3,479.3 478.4,499 478.7,506.1 478.3,510 478.1,520.5 478.6,523.8 478.6,534.6 478.1,541.2 479,542.9 478.7,545.1 478.8,556.6 478.6,559.8 479.6,457.1 479.7,473.9 479.6,473.1 479.4,511 479.6,518.8 479.6,521.8 479.2,529.6 479.6,551.6 481,462.2 480.2,468.1 480.7,468.8 481,476.2 480.7,488.9 480.9,499.3 480.1,504.4 480.7,505.5 480.4,506.8 480.2,511.8 480.9,521.8 481,527.2 480.6,530.3 480.1,533.8 480.6,534.8 481.8,461.7 481.8,467.7 481.2,477.7 481.3,519.5 481,526 481.6,531.9 481.2,551.4 483,468 482.2,470.1 482.5,471.5 482.2,491.7 482.5,499.5 482.8,502.2 482.1,519.8 482.3,521.8 482.9,525.6 482,526.5 482.3,529.5 482.6,547.9 483,550.4 483.5,443.4 483.7,466.5 483.5,505.1 483.6,522.7 483.2,531.4 483.6,541.6 483.9,544 484.4,481.9 484.4,494.5 484.1,495.2 484.5,515.2 484.7,516.7 484.8,523.6 484.6,525.6 484.7,531.9 484.5,533.3 485.6,467.5 485.7,475 485.1,477 485.7,481.2 485.3,483.4 485.7,503.2 485.3,519.3 485.9,525 485.2,526.4 485.2,531.6 485.5,537.3 485.7,539.6 486.8,455.3 486.1,460.8 486.5,463.3 486.3,485.6 486.3,487.4 486.7,509.8 486.4,514 486.6,514.9 486.6,517.3 486.3,527 486.7,542.7 487.3,466.8 487.9,472.7 487.9,480.4 487.2,484.5 487.6,492.9 487.8,514.8 487.4,518.1 487.2,525.3 487.4,540.3 488.1,429.5 489,466.3 488.6,468.9 488.3,474.9 488.9,482.7 488.1,482.1 488.6,496.2 488.7,501.2 488.8,510.5 488.1,511.2 488.9,514.4 488,549.3 489.6,452.6 489.7,468.6 489.2,470.3 490,473.9 489.8,474.1 489.1,501.3 489.8,515.1 489.9,523.6 489,542.2 489.8,549.1 490.1,456.1 490.5,457.6 490.3,464.9 490.9,465 490.3,479.9 490.2,484.3 490.4,493.6 490.5,497.7 490.5,499.4 490.5,504.4 490.4,504.8 490.3,504.1 491,512.9 490.5,518.9 490.4,526.3 490.7,531.5 490.7,532.8 490.7,534.7 492,452.1 491.9,461.4 491.2,468.9 491.8,469.9 491,471.1 491.1,487.9 491.6,497.5 491.2,497.8 491.6,498.5 491.3,504.1 491.5,513.7 491.4,524.4 491.2,538.7 491.1,543.9 492.5,465 492.3,468.6 492.7,470.3 492.7,470.7 492,487.5 492.6,489.6 492.7,491.8 492.1,503.3 492.3,504.9 492.9,504.9 492.9,505.7 492.6,524.3 492,524.4 492.5,532 492,533 492.8,534.4 492.5,539.3 493.9,480.1 493.3,481.8 493.9,489.4 493.3,497.1 493.8,498.2 493.6,509.9 493.1,512.8 493,514.3 493.2,516.1 493.3,516.6 493.9,523.1 493.1,526.8 494,527.2 493.6,541 494.5,455.9 494.7,478 494.1,486.5 494.1,487.8 494.7,501.9 494,505.7 495,506.2 494,510.3 494.7,510.8 494.5,516.9 494.1,522.5 494.9,527.1 494.6,530.3 495.7,458.6 495.8,462.1 495.3,473.4 495.8,478.2 495.6,484.2 496,486 495,494.8 495.5,496.9 496,498.9 495.3,509.2 495.7,516.7 495.5,519.9 495.1,535.4 495.7,547.8 496.4,457.4 497,473.4 496.3,473.6 496.8,523.1 496.8,526.4 497.1,442.6 497.2,483 497.9,497.3 497,499.8 497.9,511.1 497.4,512.4 497.6,525.2 497.3,564.6 498.8,469.3 498.8,480.5 498.1,485.8 498.6,504 498.7,510.1 498.1,516.9 498.2,530 498.9,534.4 499.8,457.2 499,462.7 499.3,500.9 499,505.4 499.7,510.7 499.5,513.4 500.7,456.4 500.7,460.7 500.2,464.3 500.1,483.1 500.3,496.3 500.2,531.6 500,535.1 500.1,544.4 501.4,452.7 501.4,453.9 501.9,453.8 501.4,458.9 501,466.1 502,469.9 501.5,469.6 501,480.4 501.6,482.5 501.4,488.6 501.3,517.4 501.1,522.8 501.1,531.7 502.6,452.8 502.3,457.7 502.2,462.7 503,469.7 502.7,484.2 502.4,485 502.1,489.2 502.8,490 502.2,513 502.4,515.2 502.1,515.9 502.5,528.5 503.5,451.8 503.7,478.5 503.7,480.2 503.1,480.6 503.6,482.6 503.6,491.2 503.3,492.2 503.3,514.6 503.8,543.7 504.8,448.1 504.7,457.4 504.7,470.4 505,471.5 504.5,472.1"/>
<polyline fill="none" stroke="none" marker-start="url(#m)" marker-mid="url(#m)" marker-end="url(#m)" points="504.5,475.6 504.1,478.8 504.1,497.7 504.8,511.4 504.3,520.6 504.3,521.9 505.6,458.2 505.1,469.1 505.7,475.5 505.4,479.5 505.5,493.5 505.7,503.9 505.4,504.6 506,505.4 505.5,522.7 505.2,526.9 505.1,532.3 506.7,449.7 506.6,450.9 506,456 506.6,459.4 506.9,465 506.3,471 506.6,475.1 506.7,479 506.6,490.9 506.2,501.4 506.7,504.8 506.8,505.2 507.5,456.2 507.8,481.1 507.8,488.3 507.9,496.1 507.4,512 507,516.6 507.9,519.4 507.3,531.9 508.4,435.2 508.6,447.5 508.9,457.8 508.1,465.3 508.4,466.4 508.7,468.6 508.7,487.7 508.9,488.3 508.9,494.7 508.7,504.2 508.2,505.2 508.2,506.3 508.7,523.9 508.8,538.5 509.3,461.1 509.3,471.9 509.9,477.5 509.8,491.2 509.1,497.7 509.8,504.6 509.6,528.7 510.6,456.6 510,456 510.4,460.6 510.3,467.4 510.4,467.4 510.6,471.6 510.6,479 510.5,502.1 510.5,508.8 510.3,509.1 510.1,510.2 510.5,516.2 510.4,516.8 510.4,518.8 510.5,523.8 511.8,459.4 511.7,467.3 511,472.4 511.2,483.9 511.8,490.8 511.3,494.8 511.5,501.2 511.9,519 512,540.4 512,453.5 512.6,476.8 512.8,485.8 512.6,501.6 512.4,509.9 512.4,511.5 512.9,524.8 512.6,544.3 513.3,448.2 513.6,451.2 513.8,454.5 513.8,459.4 513.8,463 513.8,472.7 513.9,472.8 513.8,486.8 513.6,497 513.1,507.1 513.9,523.1 513.2,527 513.6,529.7 514,439.2 514.7,464.3 514.2,473.4 514.3,481.4 514.2,488.1 515.4,449.6 515.4,461.9 515.9,472.8 515.9,481.1 515.2,487.4 515.1,489.8 515.8,490.8 515.6,512 515.4,520.4 515.4,531.2 516.2,451.8 516.4,466.4 517,487.7 516.2,508 517.4,448 517.6,463.2 517.4,464.9 517.7,477.6 517.3,484.6 517.9,486.4 517.5,508.3 517.4,514.2 518.1,449.5 518.8,450.9 519,453.3 518.6,453.7 518,453.9 518.3,458.4 518.7,459.2 518.2,460.2 518.7,487.9 518.7,494.2 518.7,501 518.1,507.9 518.9,507.6 518.6,509.5 518.1,510.3 519.2,462.6 519.9,474.6 519.6,475.9 519.9,483.1 519.2,489.3 519.5,518.2 520.8,449.4 520.7,449.2 520.4,449.2 520.1,459 520.8,476.2 520.2,485.6 520.6,496.6 520.7,499.5 520.2,503.3 520.3,505.4 520.2,513.3 521.8,448.7 521.3,470.3 521.1,474 521.2,482.2 522.8,445.8 522.4,449.9 522.1,457.1 522.2,465.5 522.3,470 522.9,475 522.6,480.2 522.6,482.1 522.3,485 522.9,492.5 522.4,495.4 522.3,496.3 522.6,515.4 524,450.8 523.3,452.3 523.6,455.3 523.4,460.8 523.7,468.8 523.5,475.6 523.5,483.9 523.5,494.9 523.4,505.8 524,512.8 523.9,518.3 524.1,419.3 524.5,441.7 524.2,448.5 524.2,476 524.8,487.1 524.7,491.4 524.3,496 524.5,515.2 525.7,427.8 525.7,454.1 525.7,454.1 525.8,462 525.8,467.1 525.6,467.7 525.7,479.1 525.8,482 525.4,484.8 525.3,485.4 526,485.9 525.6,491.1 525.7,494.2 525.7,508.3 525.3,516.5 526.3,419.9 526.7,449.5 526.8,459.4 526.6,467.2 526.6,484.8 526.5,492 526.5,498.2 526.8,503.5 526.9,515.7 526,516.2 527,415.9 527.2,444.9 527.4,449.3 527.2,452.5 527.6,460 527.7,485.8 527.1,496.2 527.9,508.6 527.5,509.2 527.3,510 528.5,432 528.9,438.6 528.5,442.7 528.9,445.5 528.4,495.8 528.1,513.2 528.2,520.3 529.2,451.9 529.2,458.6 529.8,461 529.6,464.1 529.4,465.7 529.6,470 529.3,472.2 529.6,472.5 529.4,473.5 529.4,476 529.8,491 529.6,495.7 530.9,447 531,448.7 530.4,461.5 530.3,472.6 530.4,484.8 530.9,499 530,520 531.5,439.7 532,443.2 531.2,458.3 531.3,464.5 532,475.1 531.3,485.5 531.1,502.8 532.7,438.8 532.5,469.6 532.3,474.8 532.3,476 532.4,476.3 532.8,485.6 532.9,501.8 533.6,436.2 533.7,452 533.1,457.7 533.3,469 533.5,470 533.3,475.5 533.9,480.8 533.4,480.2 534,486.7 534,497.1 533.8,498.1 533.9,508.4 534.5,439.4 534.6,450.1 534.8,465.6 534.3,475.6 534.1,484.7 534.9,492.7 534.3,503.9 534.2,504.4 534.4,506.4 535.3,444.1 535.6,455.2 535.3,456.6 535.3,461.5 535.9,473.5 535.3,474.4 535.1,502.1 535.2,510.1 535.8,512.8 536.9,441.1 537,443.3 536.6,444.4 536.8,449.3 536.7,451 536.8,453.6 536.8,473 536.2,482.5 536.2,482.1 537,488.5 536.1,488.8 536.9,508.1 537.1,422 537.8,433.8 537.5,440.2 537.3,442.5 537.2,470.7 537.4,506.1 537.8,510.1 537.5,512 538.9,427.3 538.9,450 538.7,453.9 538.4,464.3 538.8,480.2 538,481 538.7,480 538.5,492.8 539,510.7 539.7,445.8 539.1,447 539.8,448.3 539.5,452.5 539.5,461.3 539.4,474 539.9,476.2 539.5,498.3 539.8,498.8 539.6,499.1 540.1,434.4 540.9,435.1 540.4,435.5 540.4,449.7 540.6,455.3 540.7,457.5 540.4,462.4 540.6,463.7 540.2,472 540.2,474.2 540.9,491 540.8,499.6 540.2,510.1 541.7,433.7 541.7,437.7 541.6,441.3 541,442.6 541.3,458.1 541.2,464.5 541.7,470.7 541.7,472.7 541.6,480.5 541.6,482.5 541.6,485.5 541.1,505.1 542.7,432.7 542,441.4 542.5,458.2 542.6,470.5 542.4,471.9 542.6,491 543.6,432.5 543.2,441.4 543.4,446.2 543.3,453.3 543.6,486.6 543.5,486.5 543.9,488.4 543.2,494.7 543.9,496.6 544.3,438.9 544.5,444 544,449 544.6,453.2 544.7,456.9 544.2,460.6 544.6,461.5 544.2,479.8 544.9,494.2 545.3,438.9 545.2,455 545.7,460.3 545.8,461.9 545.9,463.9 545.3,477.6 545.9,478.8 545.5,485.3 546,494.4"/>
<polyline fill="none" stroke="none" marker-start="url(#m)" marker-mid="url(#m)" marker-end="url(#m)" points="545.8,502.1 546.7,435.5 546.2,456.7 546.2,472.9 547,476.7 546.6,484.7 546.2,502.5 546.4,503 546.2,505.8 547.5,413.4 547.5,436 547.1,452.2 547.5,454.2 547.4,457 547.3,467.4 547.1,473.7 547.7,478 547.6,484.4 547.1,486.8 547.5,488.7 547.2,491 547.4,495.7 548.1,438.1 548.7,445.3 548.2,446.2 548.6,458.1 548.6,462.6 548.1,463 548.8,466.1 548.9,469.7 548.6,484.9 548.3,492.4 548.8,506.3 549.3,467.2 549.8,474 549.1,474.2 549.2,478 551,431 550.5,433.3 550.1,454.9 550.6,457.8 550.2,461.7 550.5,467.7 551.7,422.9 551.8,430.4 551.5,435.5 551.3,438.6 551.8,453.1 551.4,459.2 552,470.5 551.7,475.9 551.2,491.3 552.2,408 552.1,426.3 552.5,437.1 552.7,443.4 552.6,443.6 552.6,444.2 552.9,447.4 552.1,452.1 552.7,480.5 552.6,483.6 552.8,487.6 552.8,489.4 553.3,450.5 553.4,451.2 553.5,456 553.6,461 553.8,467.1 553.5,470.7 553.1,474.6 553.8,484.7 554.8,435.5 554.5,442.6 554.9,443.8 554.7,460.6 554.5,474.5 554.1,474.3 554.4,477.1 554.2,481.9 555.6,420.1 555.6,421.3 555.5,433.8 555.7,435 555.3,436.6 555.3,442 555.1,442.6 555.8,452.5 556,456 555.3,470.2 555.5,475 555.8,478.8 555.9,489.6 555.2,489.8 555.8,492.7 555.5,496.6 556.3,413.8 556.7,424.9 556.2,432.9 556,434.6 556.5,440.1 556.2,443.7 556.5,464.3 556.5,486.7 557.3,427.1 557.3,439.4 557.9,445.8 557.2,463.9 557.3,465.6 557.4,469.7 557.3,484.8 557,486.7 558.2,425.6 558.6,428.3 558.3,433.4 558.5,433.7 559,441.8 558.5,442.2 558.7,452.1 558.7,462.6 558.3,466.8 558.4,471.1 558.4,476 558.8,483.7 559.5,423.7 559.6,425.6 559.9,427.8 559.2,428.1 559.4,438.9 559.1,440.6 559,440.3 559,441.8 559.2,442.6 559.7,449.5 559.4,469.6 559.9,474.9 560.9,416.8 560.3,422.5 560.9,423.2 560.3,424.4 560.1,458.6 561.5,425.3 561.3,425.9 561.9,432.6 561.7,445.8 562,446 561,461.1 561.5,472 561.8,480.6 561.7,480.4 562.8,415.4 562.4,428.1 562.8,433.7 562.4,451.1 562.1,458.7 563,459.5 562.5,462.3 562.6,464.6 562.1,464.7 562,470 563.1,413.6 563.5,418.5 563.8,438.6 564,442.6 563.6,443.9 563.5,449.4 563.2,454.4 563.8,458.6 563.7,461.1 563.5,464.2 563.1,466.3 563.5,473.3 563.1,476.1 563.9,484.2 564.5,422.8 564.8,426.2 564.7,438.1 564.7,444.6 564.8,455.4 564.2,462.8 565,466.3 564.9,467.1 564.2,469.8 564.2,471 564.1,471.9 565.6,418.3 565.7,429.6 565.8,443.8 565.1,454.2 565.2,454.4 565.9,455.3 565.5,463.9 565.6,472.5 566.9,412.9 566.3,419.6 566.9,422.8 566.5,425.8 566.4,473.9 567.1,408.9 567.4,443.5 567.8,446.3 567.7,451.2 567.8,458.7 567.4,464.5 567.7,470 567.9,476.4 567.3,483.9 568.6,410.6 568.3,412.7 569,415.8 568.9,417.3 568.2,444.5 568.2,455.4 568.7,466.9 568.6,467.1 568.9,481.1 569.9,410.1 569,416.8 569.5,421.8 569.1,424.2 569,432.9 569.1,437 569.7,450.7 570.3,414.8 570.6,415.8 570.6,429.6 570.2,444.3 570.5,461.1 570.5,468.6 571.1,419.7 571.4,424.1 571.6,425.4 571.4,433.3 571.6,436.3 571.7,451 571.2,458.8 572.3,388.8 572.3,415.4 572.1,420 572.3,420.1 572.2,431.6 572.1,449.6 572.5,451.1 572.6,455.3 573.8,423.2 573.8,423.8 573.1,425.3 573.5,426.6 573.7,429.6 573.5,446.9 573.6,466.3 574.4,409 574.5,415.9 574.9,428.1 574.1,447.8 574.9,453.7 574.8,461.5 574.7,467.6 575.9,413.1 575.9,420.4 575.7,425.6 575.6,426.9 575.2,434.9 575.5,437.8 575.3,443.5 575.2,450.3 575.1,454 575.7,458 575.8,466.5 575.9,468.6 575.8,468.3 576.6,406.3 576.6,411.9 576.4,412.4 576.3,414.6 577,423.7 576.1,424.2 576.9,429.3 576.3,444.7 576.8,455.3 576.7,462.3 576.4,464.2 576.2,473.3 576.7,474.5 577.2,417.2 577.5,417.8 577.6,440.2 577.3,441.8 577.7,451.2 577.5,452.9 577.1,470.3 577.8,477.3 578,408.2 578.5,417.2 578.7,426.4 578.2,430.6 578.9,460.2 578.2,466.7 579.7,418.8 579.8,440 579.2,439.2 579.3,444 579.1,446.7 579.7,453.7 579.7,454 580,459.8 580.5,405.1 580.9,410.9 581,423.7 580.4,425 580.3,429.3 581,436.8 580.1,455.7 582,410.1 582,419.8 581.3,425 581.1,425.6 581.2,458.4 582.4,392.7 583,410.8 582.4,413.1 582.1,436.4 582.3,440.9 582.7,448.6 582.6,458.8 583.9,409.9 583.7,411.2 583.9,428.3 583.6,430.3 583.3,443.3 583.6,448.6 583.4,452.7 583.9,454.1 584,460.2 584.5,413 584.8,424.6 584.4,430.7 584.2,450 584.5,456.9 585.7,402.1 586,425.7 585.6,425.4 585.3,425.9 585.2,442.6 585.5,443.4 585.3,450.2 585.8,461.3 585.1,463 586.5,394.5 586.8,401.2 586.9,428 587.6,413.6 587.8,416 587.8,420 587.2,430.8 588.5,401.1 588.8,423.5 588.4,426.5 588.9,426 588.7,436.2 588.2,442.3 588.5,443.3 588.6,448.3 588.3,449.1 588.4,455.3 588.4,456.5 589.2,401.9 589.2,402.4 589.7,426.9 589.1,430.2 590.4,406.2 590.7,410.6 590.9,414.6 590.1,415.6 590.2,416.5 590.8,426.9 590.5,434 590.6,450 590.3,451.4 590.5,458.5 591.5,402.6 592,411.2 591.2,413.9 591.8,440.4 591.6,441.6 591.9,452.6 592.3,415 592.4,420.2 592.6,447.5 593.7,378 593.9,416.7 593,419 593.9,419.7 593.9,424.9 593.4,428.8 593.6,445 593.5,447.4 594.2,415.1 594.6,436.7 594.4,442.8"/>
<polyline fill="none" stroke="none" marker-start="url(#m)" marker-mid="url(#m)" marker-end="url(#m)" points="594.2,450 594.3,451.4 594.1,452 594.9,455.1 594.6,462.2 595.6,397.7 595.8,437.8 595.5,446.8 596.3,392.3 596.2,403.5 596.1,405.2 596.5,416.5 596,416.8 597,425.8 596.2,437.7 596.4,438.6 596.7,440.9 596.9,449.4 597.4,403 597.6,411.2 597.5,425.1 597.8,431.6 597.3,435.4 597.2,447 597.5,447.9 597.9,449.3 597.5,450.1 598.6,393.9 599,395.7 598.5,401.8 598.8,427.4 598.7,432.7 598.5,444.2 598.4,452.6 599.9,410.4 599.2,422.6 599.7,425.1 599.7,451.4 600.8,388.3 600.1,390.8 600.9,394.5 600.5,405.4 600.3,419.3 600.2,420.7 600.5,432.9 600.3,440.1 600.9,445.5 600.9,447.6 601.9,382.9 601.2,396.9 601.3,409.2 601.2,412.2 602,423 601.5,426.9 601.9,438.1 602.8,372.9 602.4,396.1 602.6,399.6 602.8,417.1 602.5,425.3 602.3,427.9 602.6,431.2 602.6,432 602.9,437.1 602.3,447.3 603.1,392.1 603.8,412.3 603.8,422.4 604,434.7 604.8,398.9 604.5,403.8 604.2,422.6 604.7,434.3 604.2,437.1 605.5,380.7 606,392.5 605.1,408.4 605.4,410.1 605.6,411.1 605.7,419.1 605.4,423.9 605.9,424.8 605.5,434.2 606.3,395.4 606.2,399.1 606,400.7 606.8,419.5 606.5,436.5 606.9,437.1 606.2,440.3 607,384.5 607.1,403.7 607.9,416.3 607.3,430.3 608,393.8 608.3,395.4 608.2,398.8 608.2,409.7 609,411.6 608.9,422.8 608.1,427.2 608.8,432.9 608.3,444.7 609.5,411.6 609.2,416.7 609.5,425.9 609.3,430.2 609.7,435.8 610.1,380.8 610.5,387.6 610.8,400.4 610.5,404.4 610.2,412.7 610.7,416.7 610.3,420.1 610.1,428.6 611.7,391.9 611.6,391.1 611.3,392.2 612,396.6 611.6,397.3 611.7,411.1 611.3,414.9 612.6,397.3 612.2,409.1 612.7,422.7 612.9,438.9 613.5,386.9 613.8,389.2 613.6,416.6 613.5,417.2 613.1,418 613.4,419.6 613.9,421.3 614.1,389.4 614.5,396.9 614.5,419.8 614.9,427.8 614.5,428.8 614.1,430.7 615.3,395.3 615,396.2 615.5,410.2 615.9,411.7 616,417.4 615.5,445.8 616.6,390.2 617,392.2 616.1,400 616.5,403.5 616.3,406.1 617,408.9 616.1,411.7 616.7,412 617,415.6 616.3,421.5 617,382.2 617.9,412.7 618.2,376.8 618.9,379.8 618,388.3 619,395.5 618.8,418.1 618.2,423.2 619.7,382.2 620,392.8 619.8,394.8 619.8,396.5 619.2,398.1 619.9,398.4 619.7,406.6 619.7,406.1 619.1,410.3 619.8,411 619.9,416.5 619.5,426.1 619.9,428.9 619.9,430.5 620.5,386.2 620.6,404.3 620.2,420.4 621.4,380.2 622,407.6 621.9,411.3 621.7,414.8 621.2,423.7 622.7,363.6 622.7,376.5 622.9,377.8 622.6,392 622,403.7 622.4,428.8 623.5,377.9 623.4,387.1 623.2,395 623.4,403.7 623.3,411.1 624.6,390 624.5,398.2 625.5,374 625.4,394.6 625.9,397.1 625.6,401.5 625.4,410.8 626.7,382.2 627.5,391.3 627.1,394 627.7,400.6 628.9,371.9 628.6,375.5 628.2,380.9 628.4,400.6 628.1,415.7 628.8,416.3 629.4,382.9 630.2,376.2 630.7,388.5 630.4,391 631.9,363.7 631.8,369.5 632,375.4 631.9,401.1 631.7,403.5 631.7,406.2 631.1,410.9 631.4,423.2 632.5,361.4 632.5,364.1 633,392.9 632.4,402.1 633,417.9 633.5,366.3 633.2,394.9 633.7,402 633.4,408.8 633.3,417 633.1,425.4 634.5,395.1 634.3,403.2 634.9,411.5 634.5,412.3 635.1,363.2 635.4,376.6 635.6,394 635.4,397 636.6,375.2 636.7,379.5 636.9,387.1 636.1,387.3 636.7,389.9 637,396.2 636.1,402.2 636.8,411.3 637.9,368.1 637.8,381.6 637.7,384.3 637.7,399.9 637.2,402.1 637.8,406.4 638.3,379.4 638.1,389.3 638,390.7 638.5,396 638.2,401.9 638.6,402.2 638.7,409.7 638.2,412.2 639.9,355.7 639.5,373.1 639.5,391.9 639.6,399.3 639.7,405.9 639.6,412.4 640.5,373.7 640.6,373.8 640.6,374.4 640.2,380.3 640.1,383.9 640.4,387.9 640.2,388.8 640.8,390 641,391.2 640.5,401.2 640.5,404.4 640.1,406.2 641,408.7 641,385.6 641.2,395.7 641.9,397.9 642.6,372 642.8,376 642.4,394.5 642.2,395.2 642.1,400.2 642.1,406.8 643.8,374.7 643.9,379.6 643.3,391.3 644.9,373.5 644,383.2 644.1,420.5 645.7,357.2 645.9,363.6 645.4,375.9 645.5,377.5 645.2,382.5 645.6,400.1 645.5,409.3 646.9,353.5 646.9,365.6 646.4,377.9 646,383.8 646.4,399.5 646.8,405.7 647.8,359 647.2,361.8 647.9,366.6 647.5,373.3 647.1,381.3 647.3,396.3 647.9,408.8 648.3,375.7 648.5,381.7 648.8,384.2 648.4,389.3 649,390.3 649,400.1 649.7,358.3 650.7,384.1 650,394.9 650.5,415.7 651.6,382.1 651.9,386.1 651.4,401.9 652.5,383.4 652.4,389.4 652.7,399.5 652.9,409.6 652.4,410.3 653.2,358 653.7,358.5 653.7,359.5 653.9,385.4 653.9,385.6 653.4,386.9 654,387.4 654.3,359.1 654.5,371.3 654.8,375.2 654.2,378 654.3,382.8 654.5,382.5 654.1,388.7 654.1,392.7 655.5,341.9 655.2,359.5 655.1,359.1 655.2,361.6 655.7,362.8 655.9,389.8 655.8,390.6 655.4,395 655.7,399.4 656.4,344.6 656.3,348.7 656.1,351.6 656.7,359.3 656.2,366.4 656.9,375.4 656.9,376.7 656.2,385.5 656.4,392.8 656.3,398.5 657.6,361.7 657.2,367.2 657.5,388.9 657.3,390.7 657.4,401.1 658.4,354 658.5,365.4 658.6,367.8 658.3,379.7 658.9,381.8 658.2,388.1 659.4,362.6 659.5,391 659.4,399.1 660.3,331 660.2,354.7 660,357.9 660.2,369.4 660.1,372.8 660.3,401.7 661.4,359 661.2,370.3 661.8,398.3 662,398.6 662.2,345.4 662.9,348.1 662.7,355.6"/>
<polyline fill="none" stroke="none" marker-start="url(#m)" marker-mid="url(#m)" marker-end="url(#m)" points="662.7,357.9 662.1,357.2 662.7,367.9 662.9,394 662.8,397.4 662.1,399.9 664,347.8 663.3,349.1 663.3,354.5 663,361.1 663.9,361 663.3,382.2 663.1,393.4 664.7,331.5 664.6,350.9 664.9,357.5 664.3,366.2 664.4,370.3 664.9,373.9 664.3,374.8 664.3,374 664.3,383.3 664.1,393.7 665.1,362.4 665.3,365.1 665.3,369.6 665.2,370.2 666,374.9 665.1,379.9 665,384.2 665.1,399.4 666.7,348.2 666.8,356.9 666.4,379.9 666,381.7 667.1,351.1 667.9,352.7 667.9,352.6 667.7,383.8 667.1,391.9 667.5,392.4 667.1,395.6 668.1,333 668.9,334.4 668.8,340.7 668.3,343.4 668.3,344.4 668.1,364.6 669.3,359.5 669.3,373.7 669.2,384.8 669.5,385.6 669.6,388.9 669.7,402.4 670.4,339.6 670.5,349.7 670.1,351.7 670.2,352.9 670.6,362.9 670.6,370.8 670.4,373.7 670.5,381.5 670.4,383.2 670.4,387.5 670.1,393.5 671.1,363.2 671,363.8 671.3,385.8 671.5,393 671.8,397.5 672.7,353.6 672.3,361.2 672.4,364.7 672.2,375.1 672.9,382.6 672.2,391.8 672.7,393.1 673.2,340.5 673.6,342.4 673.9,343.5 673.8,356 673.6,360 673.2,369 673.9,386.1 674.7,333.3 674.3,349.4 674.5,350.4 674,350.4 674.9,367.2 675.6,350.5 675.6,351.4 675.8,352.6 675.9,362.7 675.4,362.9 675.3,366.5 675.1,371 675.6,373.2 675.6,373.2 676.4,334 676.3,337.6 676.2,337.4 676.5,355.6 676.4,377.7 676,383 676.8,384.6 677.2,335.7 677.5,337.8 677.8,344.2 677.4,360.8 677,361.1 678,371 677.7,375 677.2,379.8 677.1,382.6 678.7,338.6 678.8,362.7 678.9,365.5 678.2,379.4 678,381.1 678.4,401.4 679.2,356.9 679.6,357 679.3,364.9 679.3,367.6 680,375.7 679.5,401.6 680.2,334.5 680.7,336.1 680.9,359.4 680.7,375.4 680.7,389.5 681.8,330.9 681.3,349 681.5,357.8 681.3,360.8 681.2,370.6 681.2,374.1 682.3,342.9 682.3,350.9 682.1,362.1 682.1,363.6 682.7,365.7 682.6,369.9 682.3,374.8 682.3,382 682.5,386.6 683.7,338.5 683,344.6 683.5,361 683.4,363.7 683.7,364.7 684.6,332 684.6,351.9 684,363.1 684.8,367.5 684.9,372.6 684.9,376.7 684.3,378.1 686,352.3 685.3,362.7 685.2,373 685.7,374.8 685.6,377 685,379.9 685.7,381.9 686.6,325.7 686.9,343.2 686.5,352 686.1,359 686.1,375.5 686.3,377 687.3,317.6 687.6,347.6 687.8,348.8 687.6,368 688.5,332 688.8,344.2 688.3,359.4 688.5,368.5 688.6,370.4 690.9,324.2 690.3,346.2 690.3,358.6 690.9,374.7 691.2,340.3 691.9,368.1 692.5,325.3 692.4,328.7 692.9,334.1 692.3,347.3 692.4,353.9 692.3,356.9 692.8,359.1 693,361.3 692.5,368.1 693.8,330.6 693.4,341.8 694.3,321.7 694.2,336.6 694.8,348.4 694.7,349.1 694.8,351.2 694.8,352.9 694.6,365.9 694.1,381.2 695.2,332 695.1,332.6 695.4,337.9 695.1,356 695.4,356.6 695.9,357.5 695.3,365.9 695.5,369 696.5,327.2 697.3,364.9 697.5,365.2 697.7,379.1 698.7,335.9 698.9,350.3 698.6,364.9 699.2,327.6 699.5,348.4 699.6,360.9 700.1,323.6 700.2,324.4 700.4,326.8 700.2,339.6 700.9,351.1 701.9,340.3 702.2,337 702.7,337.1 703.4,356.6 704.2,306.3 704.3,330.8 704.7,361.6 705.6,337.6 706,353.9 705.4,353.9 705,356.1 705.3,364.8 705.5,367.7 707.8,309.5 707.3,339 707.8,345.9 707,373.2 708.2,325.7 708.8,345.3 708,356.1 709.1,355.5 710.9,328.9 710.6,352.6 711.3,323.8 711.2,329.4 711.6,338.7 711.6,348 711.1,349.5 712.1,324.3 712.8,356.3 713.9,317.1 713.7,340.3 714.9,312.3 714.9,335.2 714.2,342.6 714.8,345.8 714.1,347.3 717.3,309.1 717.2,319.8 717.1,327.1 717.4,328 717.8,340.8 718.1,322.2 718.1,322.9 718.3,334.3 718.9,343.1 719,313.5 719.1,334.6 720.2,314.1 720.8,327.3 720.8,336.1 721.8,307.2 721.4,311.4 721.2,323.6 723.3,305.3 723.8,308.5 723.8,321.3 723.9,338.4 724.3,310.2 724.1,330.9 725.2,321.5 725.2,323 726,328.3 725.2,330 727,318.4 727.3,338.4 728.5,305.4 728.2,313.2 728.2,318 729.7,320.2 729.1,326.2 730.2,284.3 730,335.6 731.6,304.6 732,332.6 732.2,306.3 732.8,311.6 732.8,327.2 733.3,298.2 733.5,319.7 733.2,334.6 734.1,302.5 734.6,313.4 735,296.7 735.9,316.9 738,310 737.7,316.7 738.9,307.3 738.2,325.9 739.2,328.9 740.8,304.9 743.8,318.2 744.4,294.4 744.3,308.5 745.2,290.1 171,680 182.2,675.6 161.4,697.6 166.4,702.8 161,718.6 165.8,719.8 170,735.6 200.2,656 198.8,680 203,669.4 207,670 197.6,707.2 201.8,709.6 198.8,721 198.8,749.2 204.2,757 256.8,428.2 391.9,413.9 393.4,441.8 387.5,450.6 380.9,477.7 384.2,484.3 393.4,491.3 386.8,495.7 373.6,497.9 379.1,502.3 338.8,485.8 339.3,496.8 340.2,501.6 359.3,499 358.6,511.8 323,508.9 260.7,554.7 276.8,563.9 211.5,587.7 229.7,592.1 239.8,582.2 252.2,583.3 344.6,525.4 321.2,533.1 300.6,540.8 294.4,558.8 153.1,770.4 160.1,781.8 163.9,806.9 182.4,819.9 210.5,768.9 240.7,772.6 267.5,760.1 283.6,769.5 226.8,756.1 230.1,752.8 249.9,748.8 214.7,737.4 222,742.2 332.8,753.9 323.2,742.9 348.9,752.8 297.6,742.9 333.5,734.8 302.7,736.3 262,745.1 268.6,742.9 243.3,740.7 241.1,742.9 245.5,739.6 240,745.1 515.5,620.3 508.9,634.1 484.7,636.1 467.9,624.4 476.3,614.8 480.7,607.5 480,596.5 487.3,593.6 488,586.2 452.1,638.3"/>
<polyline fill="none" stroke="none" marker-start="url(#m)" marker-mid="url(#m)" marker-end="url(#m)" points="449.9,616.3 452.8,662.1 454.7,677.2 428.3,664.3 420.6,646.7 434.5,636.1 401.5,704.3 385,704.3 378.8,707.2 382.1,698.8 371.1,695.9 357.5,723 376.2,723.4 370.7,727.4 378,731.4 362.6,735.3 373.6,741.3 334.4,725.2 353.1,751.2 367.4,754.2 370.7,753.8 374,753.8 377.3,753.8 384.6,752.3 385.7,769.6 663.9,456.8 645,452.8 642.1,441.4 625.9,452.8 680.2,423.8 680.9,415.4 675.4,402.6 662.6,409.9 652.7,426 647.2,426.4 634.7,485.4 631.8,500.1 602.8,494.6 595.1,529.8 568.7,521 572.4,535.7 560.7,541.5 558.5,598 539.4,548.5 542.7,546.3 525.1,549.6 554.8,515.5 575.7,486.9 609.8,462.7 605.4,461.6 484.4,587 675.9,249.5 659.8,274.1 661.6,278.9 680.7,303.8 678.5,313.7 655.4,313.7 652.1,318.1 656.5,322.5 651,325.8 653.2,332.4 654.3,336.8 648.8,345.6 666.4,330.2 693.9,318.1 752.6,368.3 745.8,404.6 711.3,418.2 717.4,378.6 706,376.4 701.6,376 698.3,375.3 692.8,391.8 690.6,390.7 674.1,413.8 648.8,420.4 796,330.2 764.3,311.9 754.4,309.3 745.6,354.4 742.3,347.8 741.2,343.4 736.8,347.8 728,352.2 729.1,340.1 724.7,347.8 750,250.6 754.8,248.8 761,240 766.5,244.4 774.2,246.6 772,259.4 753.3,260.9 745.2,268.6 759.9,270.8 764.3,267.5 767.6,269.7 770.9,270.8 766.5,273 774.2,270.8 785.2,249.9 789.6,248.8 791.8,251 797.3,243.3 801.7,242.2 818.2,247.7 806.1,254.3 809.4,257.6 805,263.1 820.4,263.8 824.8,262 785.2,258.7 784.1,267.5 789.6,270.8 795.1,276.3 804.6,279.6 810.5,274.8 851.2,262.4 792.5,288.8 792.5,301.6 732,285.1 743.4,284 745.6,287.3 750,289.5 754.4,287.3 758.8,286.2 763.2,287.3 766.5,289.5 769.8,292.8 756.6,292.8 761,295 752.2,296.1 745.6,297.2 739,298.3 736.8,301.6 741.2,303.8 728,297.2 724.7,302.7 730.2,306 770.9,297.6 754.4,306 758.8,301.6 906.8,149.6 746.2,162 860.4,194.5 846.5,204.2 836.2,206 839.9,218.3 843.6,230.6 829.3,233.5 810,220 817.2,226.6 801,227.3 808.4,231.7 537.3,276.2 574.3,274.4 464,337.5 503.9,319.5 511.3,326.5 527,307 531.8,309.6 543.9,307.8 527,318.8 538,323.5 587.9,321.3 598.9,308.5 505.8,341.5 517.9,354.3 503.2,359.5 530.3,362.4 524.1,368.6 527.8,373.4 518.6,377.8 509.8,380.7 543.9,373 541.7,384 547.6,387.7 536.2,391 568.8,369.7 569.6,346.3 558.2,344.8 554.9,350.3 557.8,351.4 565.9,356.2 556,359.8 595.6,348.1 479,382.9 461,384.4 462.9,396.9 461.8,415.6 508,397.2 498.8,420.7 518.6,402.7 530.7,399.8 547.2,400.9 567,391 562.6,397.6 589,378.9 585.7,389.9 594.5,384.4 438.3,431.7 438.3,442.7 447.1,446 413,462.5 413.4,465.4 440.5,462.5 481.2,426.2 488.9,433.9 492.2,440.5 469.1,444.9 481.2,449.3 509.8,410.8 515.3,420.7 513.1,424 516.4,427.3 520.8,415.2 531.8,410.8 534,416.3 538.4,414.1 543.9,409.7 553.8,413 452.6,452.6 449.3,458.1 454.8,459.2 421.8,479 435,479 403.1,485.6 619.4,234.5 618.3,238.2 613.9,244 606.9,253.6 605.5,274.5 603.6,308.6 612.1,333.5 622.7,335 637,350 612,359.8 612.8,363.5 610.5,362 624.8,363.5 628.5,362.8 606,374"/>
</g>
<g clip-path="url(#c)"><line x1="110" y1="790.9" x2="942" y2="112.9" stroke="#f00" stroke-width="1.56"/></g>
<g fill="none" stroke="#000" stroke-width="1.56" stroke-linecap="round">
<rect x="123" y="123" width="814" height="724"/>
<path d="M200.5 847H900.5 M200.5 847V862 M375.5 847V862 M550.5 847V862 M725.5 847V862 M900.5 847V862"/>
<path d="M123 716.5V146.7 M123 716.5H108 M123 574.0H108 M123 431.6H108 M123 289.2H108 M123 146.7H108"/>
</g>
<g font-size="25" text-anchor="middle">
<text x="200.5" y="901">-10</text>
<text x="375.5" y="901">-5</text>
<text x="550.5" y="901">0</text>
<text x="725.5" y="901">5</text>
<text x="900.5" y="901">10</text>
<text transform="translate(87 717.0) rotate(-90)">-10</text>
<text transform="translate(87 574.5) rotate(-90)">-5</text>
<text transform="translate(87 432.1) rotate(-90)">0</text>
<text transform="translate(87 289.7) rotate(-90)">5</text>
<text transform="translate(87 147.2) rotate(-90)">10</text>
<text transform="translate(530 961) scale(1.015 1)">xrn1_S288C_Ter_2 log2 densities</text>
<text transform="translate(27 485.7) rotate(-90) scale(1.015 1)">WT_37C_1 log2 densities</text>
</g>
<text transform="translate(530 73) scale(1.017 1.12)" font-size="30" font-weight="bold" text-anchor="middle">WT_37C_1 vs xrn1_S288C_Ter_2</text>
<text x="530" y="117" font-size="12.3" text-anchor="middle" style="white-space:pre">Pearson correlation =  0.93</text>
</svg></body></html>
